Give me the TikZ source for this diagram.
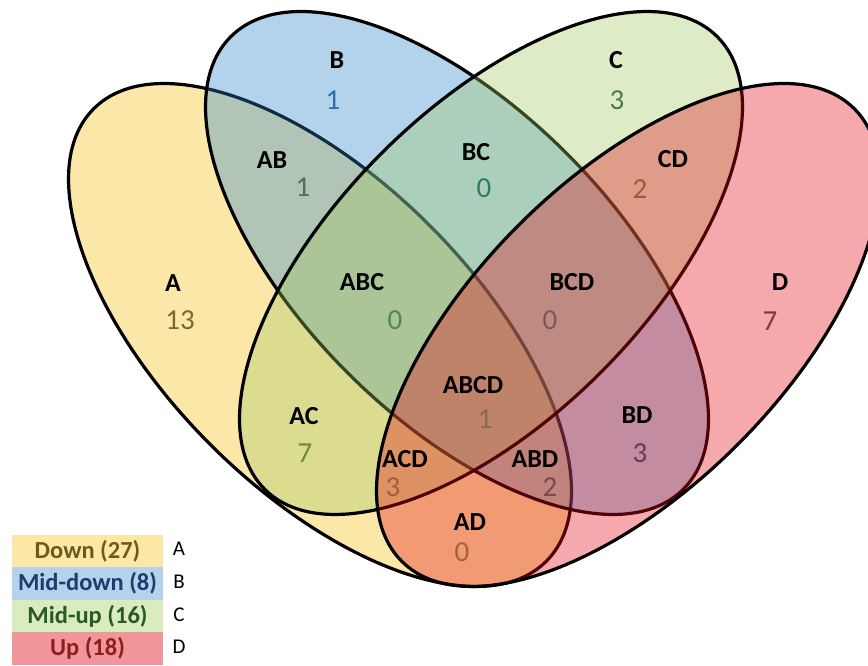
\documentclass[tikz,border=0pt]{standalone}
\usepackage{fontspec}
\setmainfont{Carlito}
\definecolor{cA}{RGB}{246,191,6}
\definecolor{cB}{RGB}{40,131,206}
\definecolor{cC}{RGB}{160,200,97}
\definecolor{cD}{RGB}{228,10,20}
\definecolor{lgA}{RGB}{252,232,165}
\definecolor{lgB}{RGB}{180,210,235}
\definecolor{lgC}{RGB}{218,235,190}
\definecolor{lgD}{RGB}{240,150,155}
\definecolor{tA}{RGB}{110,90,30}
\definecolor{tB}{RGB}{30,60,110}
\definecolor{tC}{RGB}{40,90,40}
\definecolor{tD}{RGB}{140,30,30}
\definecolor{nA}{RGB}{120,105,50}
\definecolor{nB}{RGB}{47,110,168}
\definecolor{nC}{RGB}{74,122,85}
\definecolor{nD}{RGB}{122,58,58}
\definecolor{nAB}{RGB}{90,106,90}
\definecolor{nBC}{RGB}{46,122,106}
\definecolor{nABC}{RGB}{74,138,90}
\definecolor{nBCD}{RGB}{122,90,80}
\definecolor{nCD}{RGB}{160,90,58}
\definecolor{nABCD}{RGB}{138,106,74}
\definecolor{nAC}{RGB}{106,138,58}
\definecolor{nACD}{RGB}{160,96,58}
\definecolor{nAD}{RGB}{168,96,58}
\definecolor{nABD}{RGB}{122,74,74}
\definecolor{nBD}{RGB}{106,58,90}
\begin{document}
\begin{tikzpicture}[x=1pt,y=1pt,
  vset/.style={fill opacity=0.35, draw=black, line width=3.2pt},
  lab/.style={font=\fontsize{26}{26}\selectfont\bfseries, text=black, inner sep=0pt},
  num/.style={font=\fontsize{29}{29}\selectfont, inner sep=0pt},
  legbox/.style={minimum width=151pt, minimum height=32.5pt, inner sep=0pt, font=\fontsize{24.5}{24.5}\selectfont\bfseries},
  legkey/.style={font=\fontsize{21}{21}\selectfont, inner sep=0pt}]
\useasboundingbox (0,0) rectangle (868,666);
\fill[white] (0,0) rectangle (868,666);
% sets
\path[vset, fill=cA, rotate around={-45:(320,331)}] (320,331) ellipse [x radius=320pt, y radius=155pt];
\path[vset, fill=cB, rotate around={-45:(457,403)}] (457,403) ellipse [x radius=320pt, y radius=155pt];
\path[vset, fill=cC, rotate around={45:(491,403)}] (491,403) ellipse [x radius=320pt, y radius=155pt];
\path[vset, fill=cD, rotate around={45:(628,331)}] (628,331) ellipse [x radius=320pt, y radius=155pt];
% labels
\node[lab] (lB) at (337,606) {B};
\node[num, text=nB] (nmB) at (333,566) {1};
\node[lab] (lC) at (616,606) {C};
\node[num, text=nC] (nmC) at (617,566) {3};
\node[lab] (lAB) at (272,506) {AB};
\node[num, text=nAB] (nmAB) at (303,479) {1};
\node[lab] (lBC) at (476,514) {BC};
\node[num, text=nBC] (nmBC) at (484,478) {0};
\node[lab] (lCD) at (673,507) {CD};
\node[num, text=nCD] (nmCD) at (640,477) {2};
\node[lab] (lA) at (173,383) {A};
\node[num, text=nA] (nmA) at (180,346) {13};
\node[lab] (lABC) at (362,384) {ABC};
\node[num, text=nABC] (nmABC) at (395,346) {0};
\node[lab] (lBCD) at (572,384) {BCD};
\node[num, text=nBCD] (nmBCD) at (550,346) {0};
\node[lab] (lD) at (780,384) {D};
\node[num, text=nD] (nmD) at (770,345) {7};
\node[lab] (lABCD) at (473,281) {ABCD};
\node[num, text=nABCD] (nmABCD) at (485,247) {1};
\node[lab] (lAC) at (304,250) {AC};
\node[num, text=nAC] (nmAC) at (305,213) {7};
\node[lab] (lBD) at (637,251) {BD};
\node[num, text=nBD] (nmBD) at (640,213) {3};
\node[lab] (lACD) at (405,207) {ACD};
\node[num, text=nACD] (nmACD) at (393,179) {3};
\node[lab] (lABD) at (535,207) {ABD};
\node[num, text=nABD] (nmABD) at (550,179) {2};
\node[lab] (lAD) at (470,144) {AD};
\node[num, text=nAD] (nmAD) at (462,114) {0};
% legend
\node[legbox, fill=lgA, text=tA] (gA) at (87.5,115) {Down (27)};
\node[legbox, fill=lgB, text=tB] (gB) at (87.5,82.5) {Mid-down (8)};
\node[legbox, fill=lgC, text=tC] (gC) at (87.5,50) {Mid-up (16)};
\node[legbox, fill=lgD, text=tD] (gD) at (87.5,17.5) {Up (18)};
\node[legkey] (kA) at (179,117) {A};
\node[legkey] (kB) at (179,84) {B};
\node[legkey] (kC) at (179,51) {C};
\node[legkey] (kD) at (179,19) {D};
\end{tikzpicture}
\end{document}
